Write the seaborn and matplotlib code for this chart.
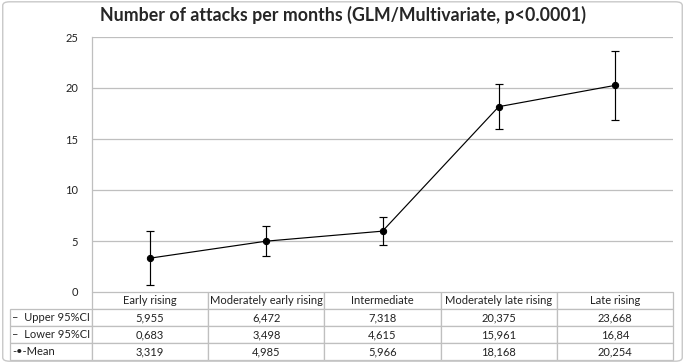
import matplotlib
matplotlib.use("Agg")
import matplotlib.pyplot as plt
import seaborn as sns
import pandas as pd
from matplotlib.patches import FancyBboxPatch

groups = ["Early rising", "Moderately early rising", "Intermediate",
          "Moderately late rising", "Late rising"]
upper = [5.955, 6.472, 7.318, 20.375, 23.668]
lower = [0.683, 3.498, 4.615, 15.961, 16.84]
mean = [3.319, 4.985, 5.966, 18.168, 20.254]
upper_txt = ["5,955", "6,472", "7,318", "20,375", "23,668"]
lower_txt = ["0,683", "3,498", "4,615", "15,961", "16,84"]
mean_txt = ["3,319", "4,985", "5,966", "18,168", "20,254"]

sns.set_style("white")
plt.rcParams["font.family"] = ["Lato", "DejaVu Sans"]

df = pd.DataFrame({"pos": range(len(groups)), "mean": mean})

fig = plt.figure(figsize=(6.85, 3.63), dpi=100)
ax = fig.add_axes([92 / 685, 1 - 292 / 363, 581 / 685, 255 / 363])

for y in [5, 10, 15, 20, 25]:
    ax.axhline(y, color="#bfbfbf", lw=0.9, zorder=0)

sns.lineplot(data=df, x="pos", y="mean", color="black", lw=0.85,
             marker="o", markersize=4.5, markeredgecolor="black", ax=ax)
yerr = [[m - l for m, l in zip(mean, lower)], [u - m for u, m in zip(upper, mean)]]
ax.errorbar(df["pos"], mean, yerr=yerr, fmt="none", ecolor="black",
            elinewidth=0.85, capsize=3, capthick=0.85)

ax.set_xlim(-0.5, len(groups) - 0.5)
ax.set_ylim(0, 25)
ax.set_yticks([0, 5, 10, 15, 20, 25])
ax.tick_params(axis="y", labelsize=8, length=0, pad=10, labelcolor="#222222")
ax.set_xticks([])
ax.set_xlabel("")
ax.set_ylabel("")
for s in ["top", "right", "bottom"]:
    ax.spines[s].set_visible(False)
ax.spines["left"].set_color("#bfbfbf")
ax.spines["left"].set_linewidth(0.9)

fig.suptitle("Number of attacks per months (GLM/Multivariate, p<0.0001)",
             fontsize=12.8, fontweight="bold", y=0.985)

# data table under the plot
lab_w = 82 / 581
cells = [[""] + groups,
         ["–  Upper 95%CI"] + upper_txt,
         ["–  Lower 95%CI"] + lower_txt,
         ["-•-Mean"] + mean_txt]
tbl = ax.table(cellText=cells, colWidths=[lab_w] + [1 / 5] * 5,
               bbox=[-lab_w, -68 / 255, 1 + lab_w, 68 / 255],
               cellLoc="center")
tbl.auto_set_font_size(False)
tbl.set_fontsize(8)
for (r, c), cell in tbl.get_celld().items():
    cell.set_edgecolor("#bfbfbf")
    cell.set_linewidth(0.9)
    cell.get_text().set_color("#222222")
    if c == 0:
        cell.set_text_props(ha="left")
        cell._loc = "left"
        cell.PAD = 0.03
    if r == 0 and c == 0:
        cell.visible_edges = ""

fig.patches.append(FancyBboxPatch((0.004, 0.005), 0.992, 0.99,
                                  boxstyle="round,pad=0,rounding_size=0.01",
                                  transform=fig.transFigure, fill=False,
                                  edgecolor="#c8c8c8", lw=1))

fig.savefig("out.png", dpi=100)
